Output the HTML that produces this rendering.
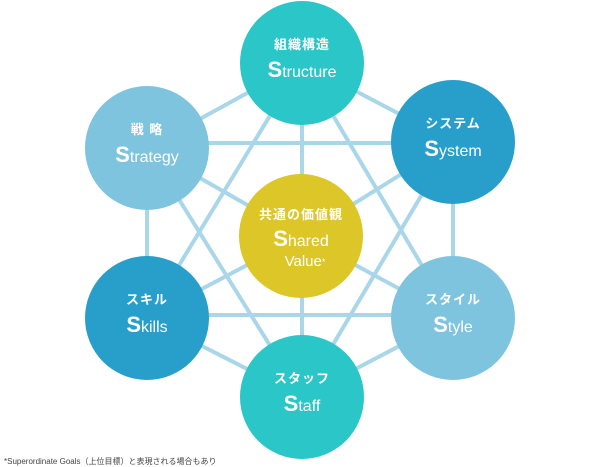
<!DOCTYPE html>
<html><head><meta charset="utf-8"><style>
body{margin:0;background:#fff;width:600px;height:467px;overflow:hidden;position:relative;font-family:"Liberation Sans","Noto Sans CJK JP",sans-serif}
svg{position:absolute;left:0;top:0}
.n{position:absolute;width:124px;height:124px;border-radius:50%;color:#fff;text-align:center}
.j{position:absolute;left:0;right:0;top:36px;font-size:13px;line-height:16px;font-weight:bold;letter-spacing:1px}
.e{position:absolute;left:0;right:0;top:58px;font-size:16px;line-height:22px}
.e b{font-size:22px;font-weight:bold}
.fn{position:absolute;left:4px;top:456px;font-size:8px;color:#444}
</style></head><body>
<svg width="600" height="467">
<g stroke="#a9d6e8" stroke-width="4">
<line x1="302" y1="63" x2="147" y2="148"/><line x1="302" y1="63" x2="453" y2="142"/>
<line x1="302" y1="63" x2="147" y2="318"/><line x1="302" y1="63" x2="453" y2="318"/>
<line x1="302" y1="63" x2="302" y2="397"/>
<line x1="147" y1="143" x2="453" y2="143"/>
<line x1="147" y1="148" x2="147" y2="318"/><line x1="453" y1="142" x2="453" y2="318"/>
<line x1="147" y1="148" x2="302" y2="397"/><line x1="453" y1="142" x2="302" y2="397"/>
<line x1="147" y1="148" x2="302" y2="236"/><line x1="453" y1="142" x2="302" y2="236"/>
<line x1="147" y1="318" x2="302" y2="236"/><line x1="453" y1="318" x2="302" y2="236"/>
<line x1="147" y1="315" x2="453" y2="315"/>
<line x1="147" y1="318" x2="302" y2="397"/><line x1="453" y1="318" x2="302" y2="397"/>
</g></svg>
<div class="n" style="left:240px;top:1px;background:#2ac6c8"><div class="j">組織構造</div><div class="e"><b>S</b>tructure</div></div>
<div class="n" style="left:85px;top:86px;background:#7fc4df"><div class="j">戦 略</div><div class="e"><b>S</b>trategy</div></div>
<div class="n" style="left:391px;top:80px;background:#279fca"><div class="j">システム</div><div class="e"><b>S</b>ystem</div></div>
<div class="n" style="left:239px;top:174px;background:#dcc628"><div class="j" style="top:33px">共通の価値観</div><div class="e" style="top:55px;line-height:20px"><b>S</b>hared<br><span style="font-size:15px;padding-left:8px">Value<span style="font-size:9px;vertical-align:top">*</span></span></div></div>
<div class="n" style="left:85px;top:256px;background:#279fca"><div class="j">スキル</div><div class="e"><b>S</b>kills</div></div>
<div class="n" style="left:391px;top:256px;background:#7fc4df"><div class="j">スタイル</div><div class="e"><b>S</b>tyle</div></div>
<div class="n" style="left:240px;top:335px;background:#2ac6c8"><div class="j">スタッフ</div><div class="e"><b>S</b>taff</div></div>
<div class="fn">*Superordinate Goals（上位目標）と表現される場合もあり</div>
</body></html>
